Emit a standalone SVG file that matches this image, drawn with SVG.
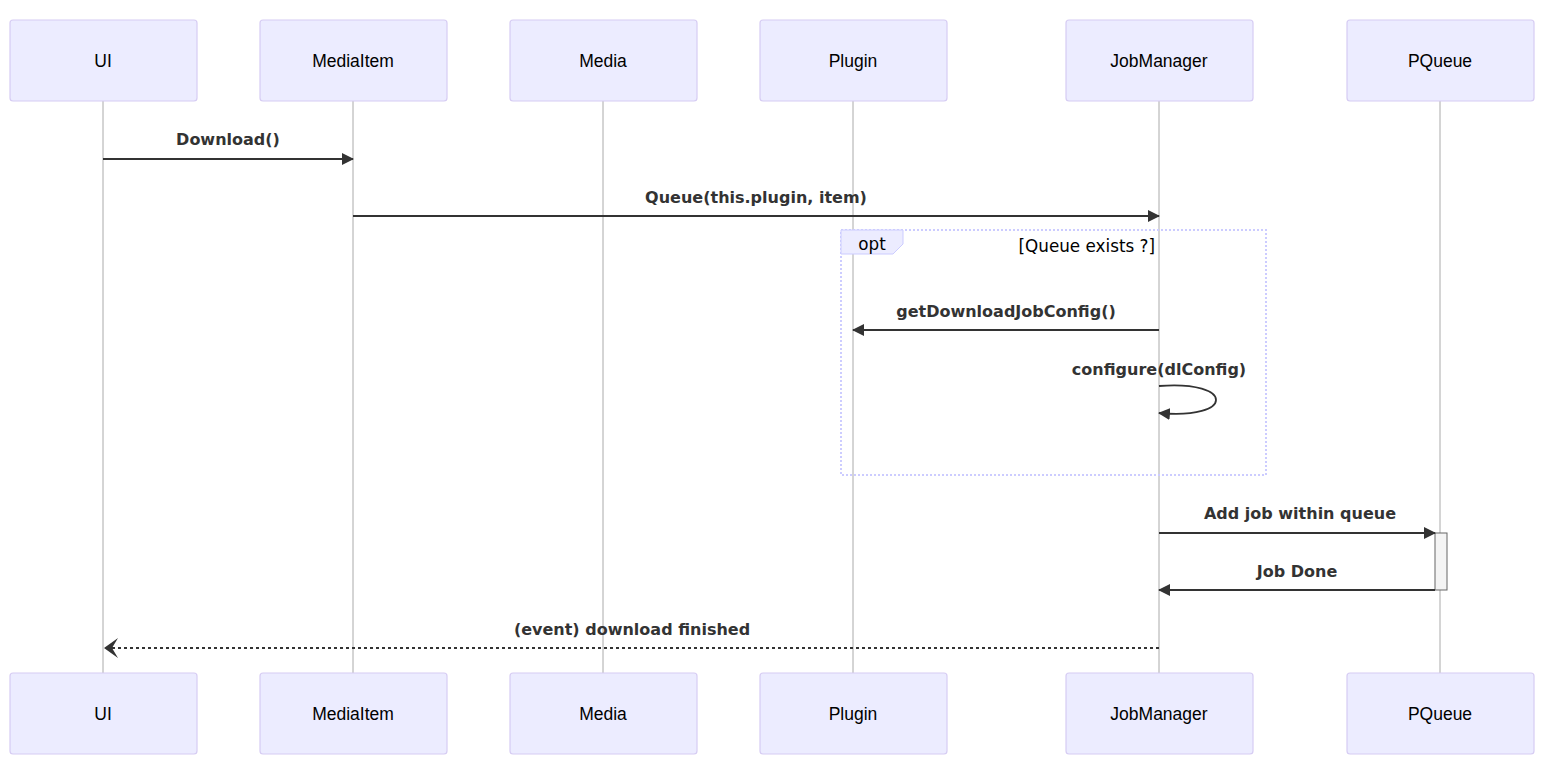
<svg xmlns="http://www.w3.org/2000/svg" width="1552" height="768" viewBox="0 0 1552 768">
  <style>
    .actor { fill: #ECECFF; stroke: #D6CCF3; stroke-width: 1.2; }
    .actor-text { font-family: "Liberation Sans", Arial, sans-serif; font-size: 17.5px; fill: #000; text-anchor: middle; dominant-baseline: central; }
    .lifeline { stroke: #AAAAAA; stroke-width: 1; }
    .msg { stroke: #333; stroke-width: 1.8; fill: none; }
    .msg-dash { stroke: #333; stroke-width: 1.8; fill: none; stroke-dasharray: 3,3; }
    .msg-text { font-family: "DejaVu Sans", Verdana, sans-serif; font-weight: bold; font-size: 16px; fill: #333; text-anchor: middle; }
    .loop-box { fill: none; stroke: #CCCCFF; stroke-width: 2; stroke-dasharray: 2,2; }
    .loop-label { fill: #ECECFF; stroke: #CCCCFF; stroke-width: 1; }
    .loop-text { font-family: "DejaVu Sans", Verdana, sans-serif; font-size: 16.8px; fill: #000; }
    .activation { fill: #F4F4F4; stroke: #666; stroke-width: 1; }
  </style>
  <defs>
    <marker id="arrowhead" viewBox="0 0 12 12" refX="11" refY="6" markerWidth="12" markerHeight="12" markerUnits="userSpaceOnUse" orient="auto">
      <path d="M0,0 L12,6 L0,12 z" fill="#333"/>
    </marker>
    <marker id="openhead" viewBox="0 0 18 22" refX="16" refY="11" markerWidth="18" markerHeight="22" markerUnits="userSpaceOnUse" orient="auto">
      <path d="M2,1 L16,11 L2,21 L8,11 z" fill="#333"/>
    </marker>
  </defs>

  <!-- lifelines -->
  <g id="lifelines">
    <line class="lifeline" x1="103" y1="101" x2="103" y2="673"/>
    <line class="lifeline" x1="353" y1="101" x2="353" y2="673"/>
    <line class="lifeline" x1="603" y1="101" x2="603" y2="673"/>
    <line class="lifeline" x1="853" y1="101" x2="853" y2="673"/>
    <line class="lifeline" x1="1159" y1="101" x2="1159" y2="673"/>
    <line class="lifeline" x1="1440" y1="101" x2="1440" y2="673"/>
  </g>

  <!-- participants, top row -->
  <g id="ui-top"><rect class="actor" x="10" y="20" width="187" height="81" rx="3"/><text class="actor-text" x="103" y="61">UI</text></g>
  <g id="mediaitem-top"><rect class="actor" x="260" y="20" width="187" height="81" rx="3"/><text class="actor-text" x="353" y="61">MediaItem</text></g>
  <g id="media-top"><rect class="actor" x="510" y="20" width="187" height="81" rx="3"/><text class="actor-text" x="603" y="61">Media</text></g>
  <g id="plugin-top"><rect class="actor" x="760" y="20" width="187" height="81" rx="3"/><text class="actor-text" x="853" y="61">Plugin</text></g>
  <g id="jobmanager-top"><rect class="actor" x="1066" y="20" width="187" height="81" rx="3"/><text class="actor-text" x="1159" y="61">JobManager</text></g>
  <g id="pqueue-top"><rect class="actor" x="1347" y="20" width="187" height="81" rx="3"/><text class="actor-text" x="1440" y="61">PQueue</text></g>

  <!-- participants, bottom row -->
  <g id="ui-bottom"><rect class="actor" x="10" y="673" width="187" height="81" rx="3"/><text class="actor-text" x="103" y="714">UI</text></g>
  <g id="mediaitem-bottom"><rect class="actor" x="260" y="673" width="187" height="81" rx="3"/><text class="actor-text" x="353" y="714">MediaItem</text></g>
  <g id="media-bottom"><rect class="actor" x="510" y="673" width="187" height="81" rx="3"/><text class="actor-text" x="603" y="714">Media</text></g>
  <g id="plugin-bottom"><rect class="actor" x="760" y="673" width="187" height="81" rx="3"/><text class="actor-text" x="853" y="714">Plugin</text></g>
  <g id="jobmanager-bottom"><rect class="actor" x="1066" y="673" width="187" height="81" rx="3"/><text class="actor-text" x="1159" y="714">JobManager</text></g>
  <g id="pqueue-bottom"><rect class="actor" x="1347" y="673" width="187" height="81" rx="3"/><text class="actor-text" x="1440" y="714">PQueue</text></g>

  <!-- opt fragment -->
  <g id="opt-fragment">
    <rect class="loop-box" x="841" y="230" width="425" height="245"/>
    <path class="loop-label" d="M841,230 L903,230 L903,244 L893,254 L841,254 z"/>
    <text class="loop-text" x="872" y="250" text-anchor="middle">opt</text>
    <text class="loop-text" x="1155" y="252" text-anchor="end">[Queue exists ?]</text>
  </g>

  <!-- activation on PQueue -->
  <g id="pqueue-activation">
    <rect class="activation" x="1435" y="533" width="12" height="57"/>
  </g>

  <!-- messages -->
  <g id="connectors">
    <line class="msg" x1="103" y1="159" x2="353" y2="159" marker-end="url(#arrowhead)"/>
    <text class="msg-text" x="228" y="145">Download()</text>

    <line class="msg" x1="353" y1="216" x2="1159" y2="216" marker-end="url(#arrowhead)"/>
    <text class="msg-text" x="756" y="203">Queue(this.plugin, item)</text>

    <line class="msg" x1="1159" y1="330" x2="853" y2="330" marker-end="url(#arrowhead)"/>
    <text class="msg-text" x="1006" y="317">getDownloadJobConfig()</text>

    <path class="msg" d="M1159,386 C1235,380 1235,420 1159,413" marker-end="url(#arrowhead)"/>
    <text class="msg-text" x="1159" y="375">configure(dlConfig)</text>

    <line class="msg" x1="1159" y1="533" x2="1435" y2="533" marker-end="url(#arrowhead)"/>
    <text class="msg-text" x="1300" y="519">Add job within queue</text>

    <line class="msg" x1="1435" y1="590" x2="1159" y2="590" marker-end="url(#arrowhead)"/>
    <text class="msg-text" x="1297" y="577">Job Done</text>

    <line class="msg-dash" x1="1159" y1="648" x2="104" y2="648" marker-end="url(#openhead)"/>
    <text class="msg-text" x="632" y="635">(event) download finished</text>
  </g>
</svg>
